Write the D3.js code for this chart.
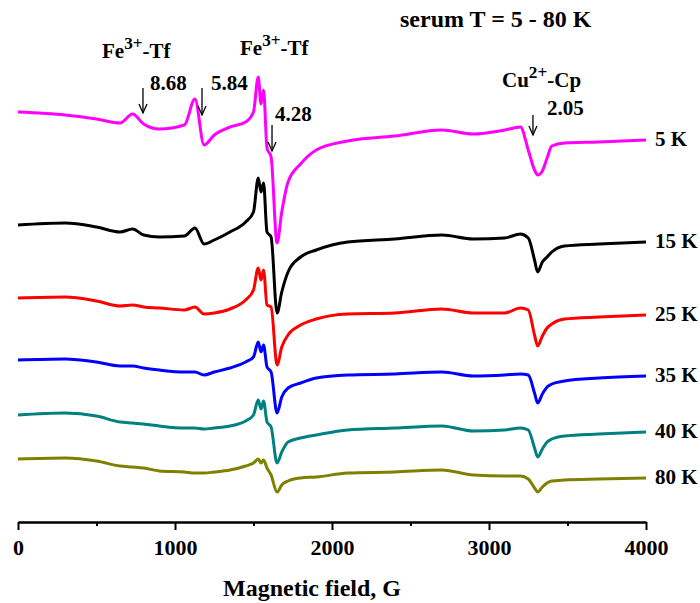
<!DOCTYPE html>
<html>
<head>
<meta charset="utf-8">
<script src="https://cdn.jsdelivr.net/npm/d3@7"></script>
<style>
  body { margin: 0; background: #fff; }
  text { font-family: "Liberation Serif", "Times New Roman", serif; font-weight: bold; fill: #000; }
</style>
</head>
<body>
<div id="chart"></div>
<script>
// field points (G) where the spectra were read
var fields = [0, 300, 500, 650, 730, 800, 900, 1060, 1127, 1185, 1250, 1350, 1450, 1500, 1530, 1548, 1564, 1586, 1612,
              1650, 1680, 1720, 1800, 1900, 2100, 2400, 2700, 2900, 3100, 3200, 3250, 3290, 3310, 3340, 3370, 3400, 3480, 3700, 4000];

// stacked EPR signal (arb. units, offsets included)
var s5K  = [410, 407, 403, 399, 408, 398, 393, 397, 423, 377, 387, 395, 400, 410, 445, 418, 432, 374, 365,
            279, 310, 340, 358, 372, 381, 386, 392, 388, 392, 395, 372, 352, 347, 351, 364, 376, 379, 380, 382];
var s15K = [297, 299, 295, 290, 293, 287, 285, 286, 294, 278, 282, 290, 300, 310, 344, 330, 339, 290, 285,
            209, 230, 250, 265, 272, 280, 283, 287, 283, 284, 288, 284, 262, 250, 260, 265, 270, 276, 278, 280];
var s25K = [224, 225, 221, 216, 217, 215, 214, 212, 215, 208, 209, 213, 222, 232, 254, 242, 252, 217, 215,
            157, 175, 187, 197, 203, 208, 209, 213, 209, 209, 214, 212, 187, 176, 186, 194, 198, 203, 205, 207];
var s35K = [162, 163, 160, 156, 156, 154, 152, 150, 150, 147, 150, 154, 160, 165, 180, 170, 177, 155, 150,
            109, 125, 134, 139, 144, 147, 148, 150, 146, 147, 148, 147, 129, 119, 128, 135, 138, 141, 144, 146];
var s40K = [107, 109, 106, 100, 99, 98, 96, 94, 94, 93, 94, 96, 101, 107, 122, 113, 121, 100, 95,
            59, 70, 80, 84, 87, 92, 94, 96, 91, 92, 94, 92, 74, 65, 73, 80, 83, 86, 88, 90];
var s80K = [63, 64, 61, 56, 55, 54, 51, 50, 49, 49, 50, 52, 56, 59, 63, 59, 62, 54, 47,
            30, 37, 41, 44, 45, 49, 50, 52, 47, 46, 46, 43, 34, 30, 35, 39, 41, 42, 43, 44];

var temps  = ["5 K", "15 K", "25 K", "35 K", "40 K", "80 K"];
var colors = ["#ff00ff", "#000000", "#ff0000", "#0000ff", "#008080", "#808000"];
var spectra = [s5K, s15K, s25K, s35K, s40K, s80K];

// g-factor markers
var gLabels = ["8.68", "5.84", "4.28", "2.05"];
var gFields = [796, 1172, 1618, 3280];

var xTicks = [0, 1000, 2000, 3000, 4000];
var xMinorTicks = [500, 1500, 2500, 3500];

var width = 700, height = 603;

var svg = d3.select("#chart")
  .append("svg")
    .attr("width", width)
    .attr("height", height);

var x = d3.scaleLinear().domain([0, 4000]).range([18, 646]);
var y = d3.scaleLinear().domain([0, 500]).range([522, 22]);

// x axis, major + minor ticks
var axisY = y(0);
svg.append("g")
  .attr("transform", "translate(0," + axisY + ")")
  .call(d3.axisBottom(x).tickValues(xMinorTicks).tickSize(4).tickSizeOuter(0).tickFormat(""))
  .call(function(g) { g.select(".domain").remove(); })
  .selectAll("line").attr("stroke-width", 2);

var xAxis = svg.append("g")
  .attr("transform", "translate(0," + axisY + ")")
  .call(d3.axisBottom(x).tickValues(xTicks).tickSize(8).tickSizeOuter(0).tickPadding(9).tickFormat(d3.format("d")));
xAxis.select(".domain").attr("stroke-width", 2.5);
xAxis.selectAll(".tick line").attr("stroke-width", 2);
xAxis.selectAll(".tick text")
  .style("font-family", '"Liberation Serif", "Times New Roman", serif')
  .style("font-weight", "bold")
  .style("font-size", "22px");

svg.append("text")
  .attr("x", 312)
  .attr("y", 596)
  .attr("text-anchor", "middle")
  .style("font-size", "24px")
  .text("Magnetic field, G");

// spectra
var line = d3.line()
  .x(function(d, i) { return x(fields[i]); })
  .y(function(d) { return y(d); })
  .curve(d3.curveMonotoneX);

spectra.forEach(function(s, k) {
  svg.append("path")
    .datum(s)
    .attr("fill", "none")
    .attr("stroke", colors[k])
    .attr("stroke-width", 3)
    .attr("stroke-linejoin", "round")
    .attr("d", line);

  svg.append("text")
    .attr("x", x(4000) + 9)
    .attr("y", y(s[s.length - 1]) - 1)
    .attr("dominant-baseline", "central")
    .style("font-size", "21px")
    .text(temps[k]);
});

// title
svg.append("text")
  .attr("x", 400)
  .attr("y", 27)
  .style("font-size", "24px")
  .text("serum T = 5 - 80 K");

// species labels with superscripts
function species(xp, yp, base, sup, rest, size) {
  var t = svg.append("text")
    .attr("x", xp)
    .attr("y", yp)
    .style("font-size", size + "px");
  t.append("tspan").text(base);
  t.append("tspan").attr("dy", -size * 0.42).style("font-size", (size * 0.82) + "px").text(sup);
  t.append("tspan").attr("dy", size * 0.42).text(rest);
}
species(102, 58, "Fe", "3+", "-Tf", 21);
species(240, 55, "Fe", "3+", "-Tf", 21);
species(502, 87, "Cu", "2+", "-Cp", 21);

// g-value arrows and numbers
var arrowSpans = [[88, 113], [88, 115], [125, 151], [115, 135]];
var labelPos = [[150, 90], [211, 90], [275, 121], [547, 115]];

gFields.forEach(function(f, i) {
  var xa = x(f), y1 = arrowSpans[i][0], y2 = arrowSpans[i][1];
  svg.append("line")
    .attr("x1", xa).attr("x2", xa)
    .attr("y1", y1).attr("y2", y2)
    .attr("stroke", "#000").attr("stroke-width", 1.3);
  svg.append("path")
    .attr("d", "M" + (xa - 4) + "," + (y2 - 9) + "L" + xa + "," + y2 + "L" + (xa + 4) + "," + (y2 - 9))
    .attr("fill", "none").attr("stroke", "#000").attr("stroke-width", 1.3);
  svg.append("text")
    .attr("x", labelPos[i][0])
    .attr("y", labelPos[i][1])
    .style("font-size", "21px")
    .text(gLabels[i]);
});
</script>
</body>
</html>
